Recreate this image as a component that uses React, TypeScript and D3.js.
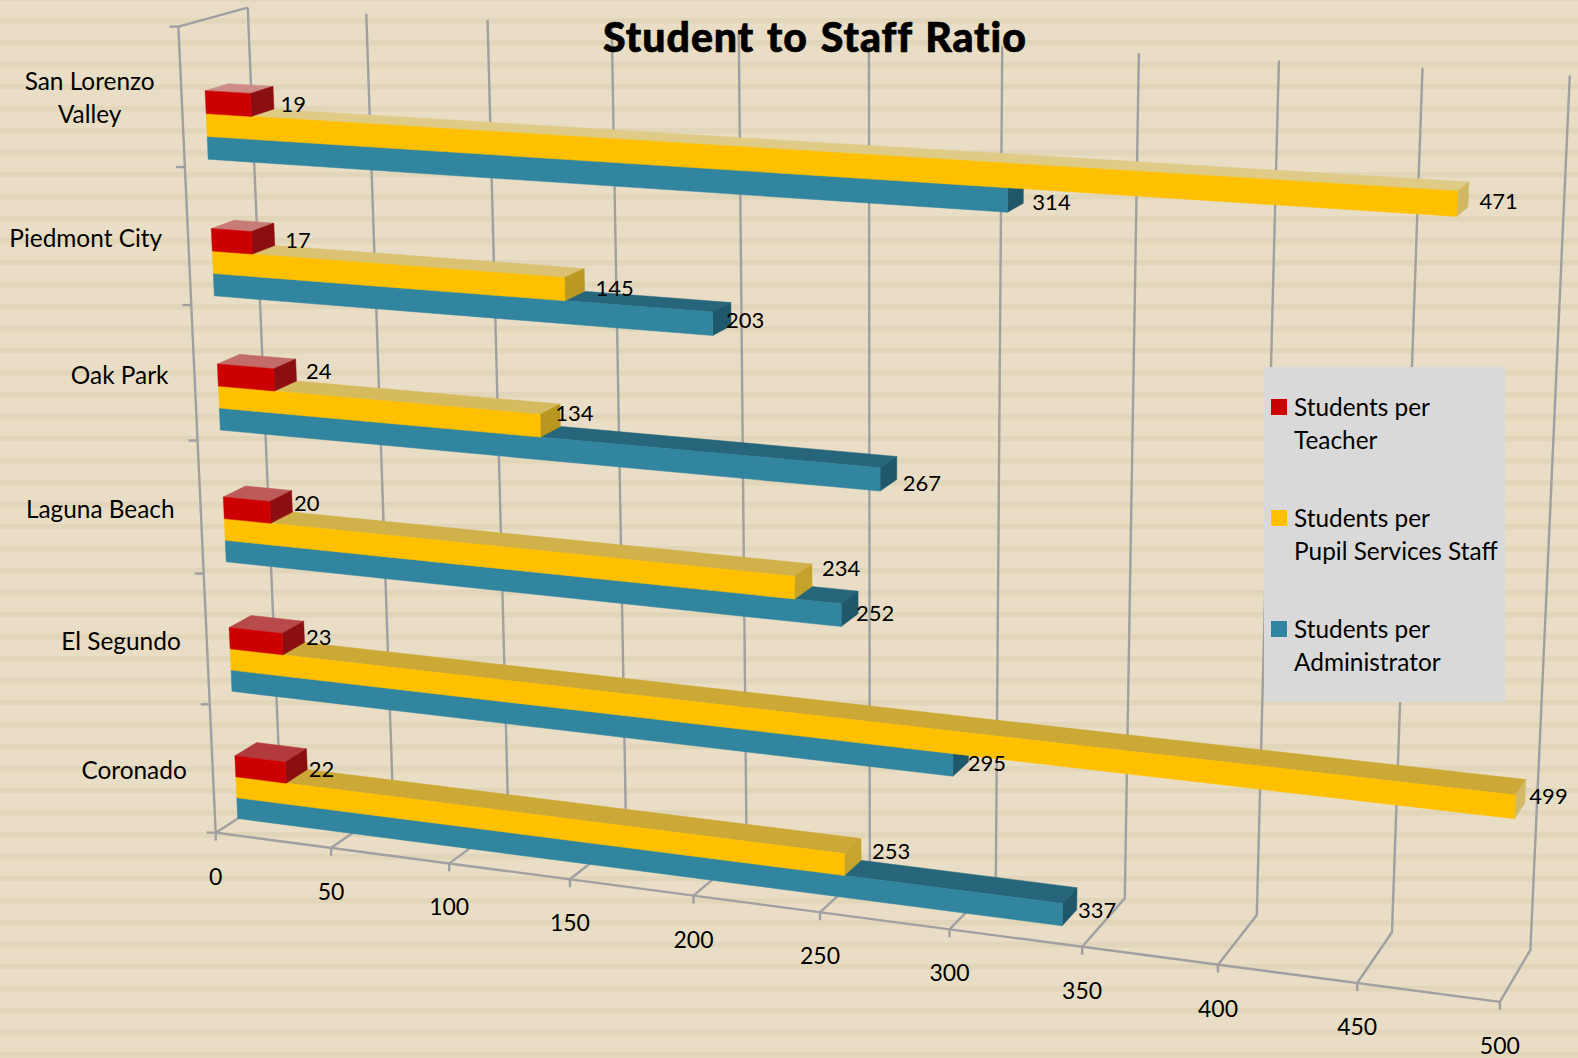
import React from "react";
import * as d3 from "d3";

const WIDTH = 1578;
const HEIGHT = 1058;

const categories = ["San Lorenzo Valley", "Piedmont City", "Oak Park", "Laguna Beach", "El Segundo", "Coronado"];
const categoryLines = [["San Lorenzo", "Valley"], ["Piedmont City"], ["Oak Park"], ["Laguna Beach"], ["El Segundo"], ["Coronado"]];
const perTeacher = [19, 17, 24, 20, 23, 22];
const perPupilServices = [471, 145, 134, 234, 499, 253];
const perAdministrator = [314, 203, 267, 252, 295, 337];
const valueTicks = [0, 50, 100, 150, 200, 250, 300, 350, 400, 450, 500];
const legendLabels = [
  ["Students per", "Teacher"],
  ["Students per", "Pupil Services Staff"],
  ["Students per", "Administrator"],
];

// Camera calibration: [value, band, depth] -> [px, py]
const calibration: number[][] = [
  [0, 0, 0, 216, 833], [50, 0, 0, 331, 847], [100, 0, 0, 449, 863], [250, 0, 0, 820, 912],
  [300, 0, 0, 950, 928], [450, 0, 0, 1357, 984], [500, 0, 0, 1500, 1003],
  [0, 6, 0, 178, 27],
  [0, 0, 1, 280, 792], [350, 0, 1, 1125, 899], [400, 0, 1, 1258, 915], [450, 0, 1, 1391, 932], [500, 0, 1, 1530, 949],
  [0, 6, 1, 248, 8], [50, 6, 1, 366, 13], [100, 6, 1, 488, 20], [350, 6, 1, 1139, 53],
  [400, 6, 1, 1279, 61], [450, 6, 1, 1422, 68], [500, 6, 1, 1570, 75],
];

const vNorm = d3.scaleLinear().domain([0, 500]).range([0, 1]);
const hNorm = d3.scaleLinear().domain([0, 6]).range([0, 1]);

function solve(A: number[][], b: number[]): number[] {
  const n = b.length;
  const M = A.map((r, i) => [...r, b[i]]);
  for (let c = 0; c < n; c++) {
    let p = c;
    for (let r = c + 1; r < n; r++) if (Math.abs(M[r][c]) > Math.abs(M[p][c])) p = r;
    [M[c], M[p]] = [M[p], M[c]];
    for (let r = 0; r < n; r++) {
      if (r === c) continue;
      const f = M[r][c] / M[c][c];
      for (let k = c; k <= n; k++) M[r][k] -= f * M[c][k];
    }
  }
  return M.map((r, i) => r[n] / r[i]);
}

function fitCamera(): number[] {
  const rows: number[][] = [];
  const rhs: number[] = [];
  calibration.forEach(([v, h, d, x, y]) => {
    const a = vNorm(v), b = hNorm(h), c = d;
    rows.push([a, b, c, 1, 0, 0, 0, 0, -x * a, -x * b, -x * c]);
    rhs.push(x);
    rows.push([0, 0, 0, 0, a, b, c, 1, -y * a, -y * b, -y * c]);
    rhs.push(y);
  });
  const n = 11;
  const AtA = d3.range(n).map((i) => d3.range(n).map((j) => d3.sum(rows, (r) => r[i] * r[j])));
  const Atb = d3.range(n).map((i) => d3.sum(rows, (r, k) => r[i] * rhs[k]));
  return solve(AtA, Atb);
}
const P = fitCamera();

function project(v: number, h: number, d: number): [number, number] {
  const a = vNorm(v), b = hNorm(h);
  const w = P[8] * a + P[9] * b + P[10] * d + 1;
  return [(P[0] * a + P[1] * b + P[2] * d + P[3]) / w, (P[4] * a + P[5] * b + P[6] * d + P[7]) / w];
}

const lineGen = d3.line<[number, number]>();
const poly = (pts: [number, number][]) => lineGen(pts) + "Z";

const barThickness = 0.165;
const depth0 = 1 / 3;
const depth1 = 2 / 3;

const seriesList = [
  { name: "Students per Teacher", values: perTeacher, slot: 2, front: "#CC0000", swatch: "#CC0000" },
  { name: "Students per Pupil Services Staff", values: perPupilServices, slot: 1, front: "#FFC000", swatch: "#FFC000" },
  { name: "Students per Administrator", values: perAdministrator, slot: 0, front: "#31859F", swatch: "#31859F" },
];

const redTop = d3.scaleLinear<string>().domain([0, 5]).range(["#CE8C86", "#B23A3C"]);
const yellowTop = d3.scaleLinear<string>().domain([0, 4, 5]).range(["#DFCB86", "#CCA836", "#CCA836"]);
const yellowSide = d3.scaleLinear<string>().domain([130, 260, 500]).range(["#B8961F", "#C8A62E", "#D0BA68"]);

function faceColors(slot: number, band: number, value: number) {
  if (slot === 2) return { top: redTop(band), side: "#8B0E10" };
  if (slot === 1) return { top: yellowTop(band), side: yellowSide(value) };
  return { top: "#26657A", side: "#20586B" };
}

// fine placement of data labels, per series then category
const labelNudge: number[][][] = [
  [[-3, 1], [1, 0], [0, -5], [-8, -4], [-8, -1], [-8, 4]],
  [[1, 1], [1, 2], [-15, -8], [0, -13], [-6, -1], [1, -4]],
  [[-1, 5], [-15, 0], [-4, 9], [-12, 5], [-11, 7], [-9, 6]],
];

const FONT = "Lato, 'Open Sans', sans-serif";
const NUM = 23;
const DATA = 22;
const TXT = 24.4;
const GRID = "#A0A0A2";

export default function App() {
  const bars = categories.flatMap((_, i) => {
    const base = 5 - i;
    // draw lower series first so upper ones overlap them
    return [2, 1, 0].map((si) => {
      const s = seriesList[si];
      const v = s.values[i];
      const h0 = base + s.slot * barThickness;
      const h1 = h0 + barThickness;
      const c = faceColors(s.slot, i, v);
      return {
        key: `${i}-${si}`,
        front: s.front,
        c,
        frontPath: poly([project(0, h0, depth0), project(v, h0, depth0), project(v, h1, depth0), project(0, h1, depth0)]),
        topPath: poly([project(0, h1, depth0), project(v, h1, depth0), project(v, h1, depth1), project(0, h1, depth1)]),
        sidePath: poly([project(v, h0, depth0), project(v, h1, depth0), project(v, h1, depth1), project(v, h0, depth1)]),
      };
    });
  });

  const dataLabels = categories.flatMap((_, i) =>
    seriesList.map((s, si) => {
      const v = s.values[i];
      const base = 5 - i;
      const hMid = base + (s.slot + 0.5) * barThickness;
      const [x, y] = project(v, hMid, depth1);
      const [nx, ny] = labelNudge[si][i];
      return { key: `${i}-${si}`, text: String(v), x: x + 10 + nx, y: y + 6 + ny };
    })
  );

  return (
    <svg
      width={WIDTH}
      height={HEIGHT}
      viewBox={`0 0 ${WIDTH} ${HEIGHT}`}
      style={{ position: "absolute", left: 0, top: 0, display: "block" }}
      fontFamily={FONT}
    >
      <defs>
        <pattern id="stripes" width={22} height={22} patternUnits="userSpaceOnUse" patternTransform="translate(0,18)">
          <rect width={22} height={22} fill="#E9DEC5" />
          <rect width={22} height={5.5} fill="#E1D6B9" />
        </pattern>
      </defs>
      <rect width={WIDTH} height={HEIGHT} fill="url(#stripes)" />

      <g stroke={GRID} strokeWidth={2.4} fill="none">
        {valueTicks.map((t) => {
          const a = project(t, 0, 0);
          const b = project(t, 0, 1);
          const c = project(t, 6, 1);
          return (
            <g key={t}>
              <path d={lineGen([a, b, c])!} />
              <path d={lineGen([a, [a[0], a[1] + 8]])!} />
            </g>
          );
        })}
        <path d={lineGen([project(0, 0, 0), project(500, 0, 0)])!} />
        <path d={lineGen([project(0, 0, 0), project(0, 6, 0), project(0, 6, 1)])!} />
        {d3.range(0, 7).map((h) => {
          const a = project(0, h, 0);
          return <path key={h} d={lineGen([a, [a[0] - 9, a[1]]])!} />;
        })}
      </g>

      {bars.map((b) => (
        <g key={b.key}>
          <path d={b.topPath} fill={b.c.top} stroke={b.c.top} strokeWidth={0.5} />
          <path d={b.sidePath} fill={b.c.side} stroke={b.c.side} strokeWidth={0.5} />
          <path d={b.frontPath} fill={b.front} stroke={b.front} strokeWidth={0.5} />
        </g>
      ))}

      <g fill="#000">
        {dataLabels.map((l) => (
          <text key={l.key} x={l.x} y={l.y} dy="0.35em" fontSize={DATA}>{l.text}</text>
        ))}
        {valueTicks.map((t) => {
          const [x, y] = project(t, 0, 0);
          return <text key={t} x={x} y={y + 44} dy="0.35em" textAnchor="middle" fontSize={NUM}>{t}</text>;
        })}
        {categoryLines.map((lines, i) => {
          const [ax, ay] = project(0, 5.5 - i, 0);
          const y0 = ay + 1 - ((lines.length - 1) * 33) / 2;
          return lines.length === 1 ? (
            <text key={i} x={ax - 26} y={ay + 2} dy="0.35em" textAnchor="end" fontSize={TXT}>{lines[0]}</text>
          ) : (
            <g key={i}>
              {lines.map((t, k) => (
                <text key={k} x={ax - 92} y={y0 + k * 33} dy="0.35em" textAnchor="middle" fontSize={TXT}>{t}</text>
              ))}
            </g>
          );
        })}
      </g>

      <rect x={1264} y={367} width={241} height={335} fill="#D9D9D9" />
      <g fontSize={TXT} fill="#000">
        {seriesList.map((s, i) => {
          const y = 407 + i * 111;
          return (
            <g key={s.name}>
              <rect x={1271} y={y - 8} width={16} height={16} fill={s.swatch} />
              {legendLabels[i].map((t, k) => (
                <text key={k} x={1294} y={y + k * 33} dy="0.35em">{t}</text>
              ))}
            </g>
          );
        })}
      </g>

      <text
        x={815}
        y={52}
        textAnchor="middle"
        fontSize={41}
        fontWeight={900}
        fill="#000"
        stroke="#000"
        strokeWidth={0.7}
        letterSpacing={1}
        wordSpacing={2}
        fontFamily="Lato, sans-serif"
      >
        Student to Staff Ratio
      </text>
    </svg>
  );
}
